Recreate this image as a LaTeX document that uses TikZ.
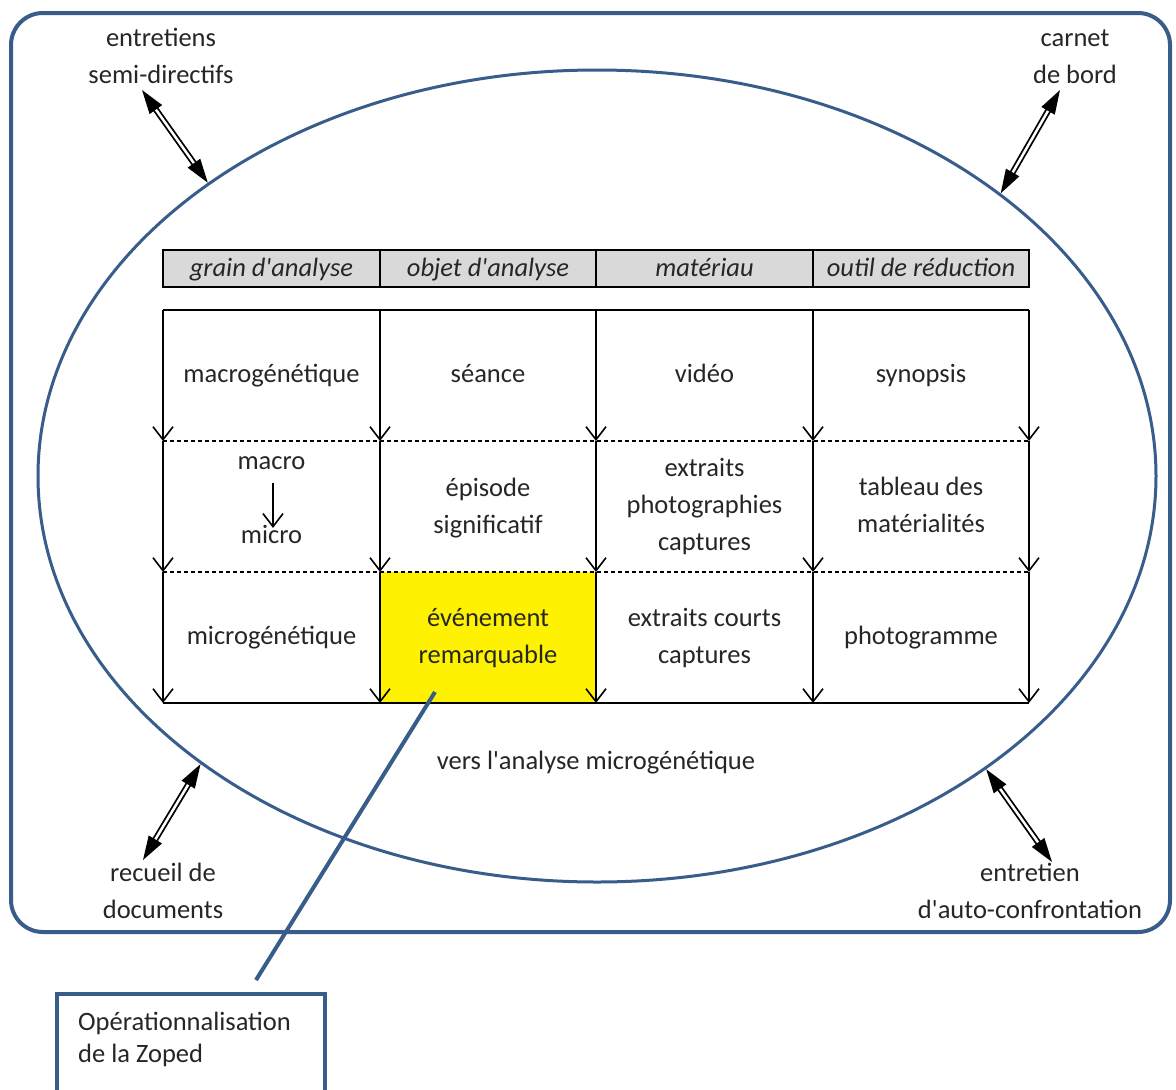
\documentclass[tikz,border=0pt]{standalone}
\usepackage{fontspec}
\setmainfont{Carlito}[Ligatures=TeXOff]
\usetikzlibrary{arrows.meta,shapes.geometric}
\definecolor{frameblue}{HTML}{385D8A}
\definecolor{headgray}{HTML}{D9D9D9}
\definecolor{txt}{HTML}{262626}
\begin{document}
\begin{tikzpicture}[x=1pt,y=-1pt,
  lbl/.style={font=\fontsize{26.5}{37}\selectfont, text=txt, align=center, inner sep=0pt},
  hdrcell/.style={draw=black, fill=headgray, line width=1.6pt, minimum height=37pt, inner sep=0pt,
    text height=19pt, text depth=4pt, font=\fontsize{26.5}{37}\selectfont\itshape, text=txt},
  cell/.style={lbl, minimum width=216pt, minimum height=131pt},
  gridline/.style={line width=1.7pt, black},
  downarrow/.style={gridline, -{Straight Barb[length=13pt,width=20pt,line width=1.6pt]}},
  sepline/.style={line width=1.5pt, black, dash pattern=on 4pt off 3pt},
  blueline/.style={draw=frameblue, line width=4pt},
  dblarrow/.style={draw=black, double=white, double distance=2.5pt, line width=1.8pt,
    {Triangle[length=24pt,width=15pt]}-{Triangle[length=24pt,width=15pt]}}
]
\useasboundingbox (0,0) rectangle (1176,1090);
\fill[white] (0,0) rectangle (1176,1090);
\clip (0,0) rectangle (1176,1090);

% outer frame and ellipse
\node[blueline, rounded corners=32pt, minimum width=1159pt, minimum height=919pt, inner sep=0pt] (frame) at (590.5,472.5) {};
\node[ellipse, draw=frameblue, line width=3pt, minimum width=1118pt, minimum height=812pt, inner sep=0pt] (zone) at (597,476) {};

% header row
\node[hdrcell, minimum width=217pt] (h1) at (271.5,268.5) {grain d'analyse};
\node[hdrcell, minimum width=216pt] (h2) at (488,268.5) {objet d'analyse};
\node[hdrcell, minimum width=217pt] (h3) at (704.5,268.5) {matériau};
\node[hdrcell, minimum width=216pt] (h4) at (921,268.5) {outil de réduction};

% cells
\node[cell] (c11) at (271.5,375.5) {macrogénétique\strut};
\node[cell] (c12) at (488,375.5) {séance\strut};
\node[cell] (c13) at (704.5,375.5) {vidéo\strut};
\node[cell] (c14) at (921,375.5) {synopsis\strut};

\node[lbl] (macro) at (271.5,461.6) {macro\strut};
\node[lbl] (micro) at (271.5,535.6) {micro\strut};
\node[cell] (c22) at (488,507.5) {épisode\strut\\significatif\strut};
\node[cell] (c23) at (704.5,506.5) {extraits\strut\\photographies\strut\\captures\strut};
\node[cell] (c24) at (921,506.5) {tableau des\strut\\matérialités\strut};

\node[cell] (c31) at (271.5,637.5) {microgénétique\strut};
\node[cell, fill=yellow] (c32) at (488,637.5) {événement\strut\\remarquable\strut};
\node[cell] (c33) at (704.5,637.5) {extraits courts\strut\\captures\strut};
\node[cell] (c34) at (921,637.5) {photogramme\strut};

% grid
\foreach \i/\x in {0/163,1/380,2/596,3/813,4/1029} {
  \foreach \j/\y in {0/310,1/441,2/572,3/703} {
    \coordinate (g\i-\j) at (\x,\y);
  }
}
\draw[gridline] (g0-0) -- (g4-0);
\draw[gridline] (g0-3) -- (g4-3);
\draw[sepline] (g0-1) -- (g4-1);
\draw[sepline] (g0-2) -- (g4-2);
\foreach \i in {0,...,4} {
  \draw[downarrow] (g\i-0) -- (g\i-1);
  \draw[downarrow] (g\i-1) -- (g\i-2);
  \draw[downarrow] (g\i-2) -- (g\i-3);
}
\draw[downarrow] ([xshift=1.5pt,yshift=-3pt]macro.south) -- ([xshift=1.5pt,yshift=-11pt]micro.north);

% bottom label
\node[lbl] (vers) at (596,761.6) {vers l'analyse microgénétique\strut};

% outer labels
\node[lbl] (lblTL) at (161,58) {entretiens\strut\\semi-directifs\strut};
\node[lbl] (lblTR) at (1075,58) {carnet\strut\\de bord\strut};
\node[lbl] (lblBL) at (163,893) {recueil de\strut\\documents\strut};
\node[lbl] (lblBR) at (1030,893) {entretien\strut\\d'auto-confrontation\strut};

% double arrows
\coordinate (tlend) at (142,90);
\coordinate (trend) at (1060,90);
\coordinate (blend) at (143,860);
\coordinate (brend) at (1052,862);
\draw[dblarrow] (tlend) -- (zone.143.8);
\draw[dblarrow] (trend) -- (zone.35.6);
\draw[dblarrow] (blend) -- (zone.216.2);
\draw[dblarrow] (brend) -- (zone.323.3);

% callout
\node[blueline, anchor=north west, minimum width=268pt, minimum height=160pt, inner sep=0pt] (zopedbox) at (55,992) {};
\node[font=\fontsize{26.5}{32}\selectfont, text=txt, align=left, inner sep=0pt, anchor=north west] (zopedtxt) at (78,1007.6) {Opérationnalisation\strut\\de la Zoped\strut};
\coordinate (callstart) at (435,692);
\coordinate (callend) at (256,980);
\draw[frameblue, line width=4pt] (callstart) -- (callend);
\end{tikzpicture}
\end{document}
